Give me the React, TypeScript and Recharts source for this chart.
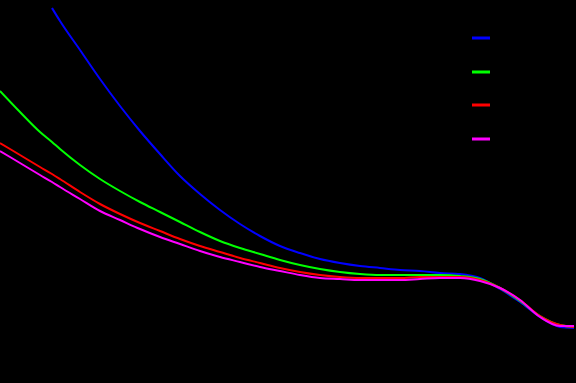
import { LineChart, Line, XAxis, YAxis } from 'recharts';

const X_VALUES = [0, 20, 40, 52, 60, 80, 100, 120, 140, 160, 180, 200, 220, 240, 260, 280, 300, 320, 340, 360, 380, 400, 420, 440, 460, 480, 500, 520, 540, 560, 574];

const BLUE = [null, null, null, 375, 362, 333, 304, 277, 252, 229, 207, 189, 173, 159, 147, 137, 130, 124, 120, 117, 115, 113, 112, 110, 109, 105, 94, 81, 66, 56, 55];
const GREEN = [292, 271, 251, 241, 234, 218, 204, 192, 181, 171, 161, 151, 142, 135, 129, 123, 118, 114, 111, 109, 108, 108, 108, 108, 107, 104, 95, 82, 67, 58, 56];
const RED = [240, 228, 216, 209, 204, 191, 179, 169, 160, 152, 144, 137, 131, 125, 120, 115, 111, 108, 106, 105, 105, 105, 106, 106, 106, 103, 95, 83, 67, 58, 56];
const MAGENTA = [232, 220, 208, 201, 196, 184, 172, 163, 154, 146, 139, 132, 126, 121, 116, 112, 108, 105, 104, 103, 103, 103, 104, 105, 105, 102, 95, 83, 66, 57, 57];

const SERIES = [
    { key: 'a', name: 'a', color: '#0000ff', values: BLUE },
    { key: 'b', name: 'b', color: '#00ff00', values: GREEN },
    { key: 'c', name: 'c', color: '#ff0000', values: RED },
    { key: 'd', name: 'd', color: '#ff00ff', values: MAGENTA },
];

const data = X_VALUES.map((x, i) => {
    const row: Record<string, number | null> = { x };
    SERIES.forEach((s) => { row[s.key] = s.values[i]; });
    return row;
});

// legend drawn over the chart so it takes no room from the plot
function LegendBox() {
    return (
        <div style={{ position: 'absolute', top: 21, left: 472, display: 'flex', flexDirection: 'column' }}>
            {SERIES.map((s) => (
                <div key={s.key} style={{ height: 33.7, display: 'flex', alignItems: 'center' }}>
                    <svg width={18} height={4} style={{ display: 'block' }}>
                        <line x1={0} y1={2} x2={18} y2={2} stroke={s.color} strokeWidth={3} />
                    </svg>
                    <span style={{ color: '#000', fontFamily: 'DejaVu Sans', fontSize: 12, marginLeft: 6 }}>{s.name}</span>
                </div>
            ))}
        </div>
    );
}

export default function App() {
    return (
        <div style={{ position: 'absolute', top: 0, left: 0, width: 576, height: 383, background: '#000' }}>
            <LineChart width={576} height={383} data={data} margin={{ top: 0, right: 0, bottom: 0, left: 0 }}>
                <XAxis dataKey="x" type="number" domain={[0, 576]} hide />
                <YAxis type="number" domain={[0, 383]} hide />
                {SERIES.map((s) => (
                    <Line
                        key={s.key}
                        type="monotone"
                        dataKey={s.key}
                        name={s.name}
                        stroke={s.color}
                        strokeWidth={2}
                        dot={false}
                        activeDot={false}
                        isAnimationActive={false}
                    />
                ))}
            </LineChart>
            <LegendBox />
        </div>
    );
}
